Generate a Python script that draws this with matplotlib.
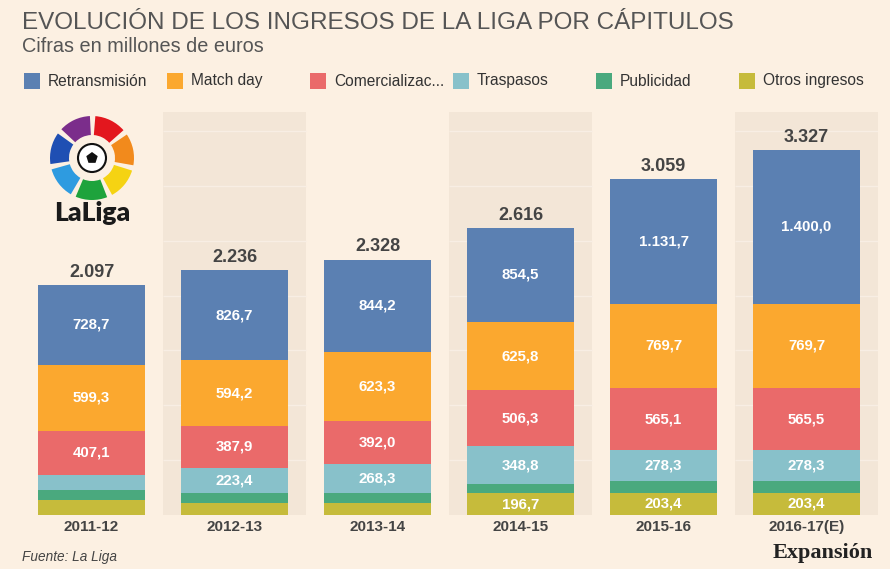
import matplotlib
matplotlib.use("Agg")
import matplotlib.pyplot as plt
from matplotlib.patches import Rectangle, Wedge, Circle, RegularPolygon
import numpy as np

# ---- data ----
categories = ['2011-12', '2012-13', '2013-14', '2014-15', '2015-16', '2016-17(E)']
retransmision = [728.7, 826.7, 844.2, 854.5, 1131.7, 1400.0]
match_day = [599.3, 594.2, 623.3, 625.8, 769.7, 769.7]
comercializacion = [407.1, 387.9, 392.0, 506.3, 565.1, 565.5]
traspasos = [137.0, 223.4, 268.3, 348.8, 278.3, 278.3]
publicidad = [85.0, 92.0, 91.0, 83.9, 110.8, 110.1]
otros = [139.9, 111.8, 109.2, 196.7, 203.4, 203.4]
totals = [2097, 2236, 2328, 2616, 3059, 3327]
legend_names = ['Retransmisión', 'Match day', 'Comercializac...', 'Traspasos', 'Publicidad', 'Otros ingresos']

colors = {
    'Retransmisión': '#5b80b2',
    'Match day': '#fba82f',
    'Comercializac...': '#ea6a6a',
    'Traspasos': '#88c1ca',
    'Publicidad': '#4aa97e',
    'Otros ingresos': '#c6bb3b',
}
BG = '#fcf0e2'
BAND = '#f3e6d7'
TXT = '#444444'

W, H = 890, 569
fig = plt.figure(figsize=(W / 100, H / 100), dpi=100, facecolor=BG)

def px(x, y):
    return x / W, 1 - y / H

# main axes
ax_l, ax_r, ax_t, ax_b = 20, 878, 112, 515
ax = fig.add_axes([ax_l / W, 1 - ax_b / H, (ax_r - ax_l) / W, (ax_b - ax_t) / H])
ax.set_facecolor(BG)
for s in ax.spines.values():
    s.set_visible(False)
n = len(categories)
ax.set_xlim(-0.5, n - 0.5)
ymax = (ax_b - ax_t) / (230 / 2097)
ax.set_ylim(0, ymax)
ax.set_xticks([])
ax.set_yticks([])

# alternating bands with faint gridlines inside
for i in range(n):
    if i % 2 == 1:
        ax.axvspan(i - 0.5, i + 0.5, color=BAND, zorder=0, lw=0)
        for g in np.arange(500, ymax, 500):
            ax.hlines(g, i - 0.5, i + 0.5, color='#f8eee4', lw=1.0, zorder=0.5)

x = np.arange(n)
series = [
    ('Otros ingresos', otros),
    ('Publicidad', publicidad),
    ('Traspasos', traspasos),
    ('Comercializac...', comercializacion),
    ('Match day', match_day),
    ('Retransmisión', retransmision),
]

def fmt_es(v, dec=1):
    s = f"{v:,.{dec}f}"
    return s.replace(',', 'X').replace('.', ',').replace('X', '.')

bottom = np.zeros(n)
for name, vals in series:
    vals = np.array(vals)
    ax.bar(x, vals, bottom=bottom, width=0.75, color=colors[name], lw=0, zorder=2)
    for xi, v, b in zip(x, vals, bottom):
        if v >= 150:
            ax.text(xi, b + v / 2, fmt_es(v, 1), ha='center', va='center',
                    color='white', fontsize=10.8, fontweight='bold',
                    family='Liberation Sans', zorder=3)
    bottom += vals

for xi, t in zip(x, totals):
    ax.annotate(fmt_es(t, 0), (xi, t), xytext=(0, 3), textcoords='offset points',
                ha='center', va='bottom', fontsize=13, fontweight='bold',
                color=TXT, family='Liberation Sans')

# category labels
for xi, c in zip(x, categories):
    fx, fy = px(ax_l + (xi + 0.5) * (ax_r - ax_l) / n, 527)
    fig.text(fx, fy, c, ha='center', va='center', fontsize=11, fontweight='bold',
             color=TXT, family='Liberation Sans')

# title & subtitle
fig.text(*px(22, 23), 'EVOLUCIÓN DE LOS INGRESOS DE LA LIGA POR CÁPITULOS',
         ha='left', va='center', fontsize=17.5, color='#555555',
         family='Liberation Sans')
fig.text(*px(22, 47), 'Cifras en millones de euros', ha='left', va='center',
         fontsize=14.3, color='#555555', family='Liberation Sans')

# legend
for i, name in enumerate(legend_names):
    x0 = 24 + 143 * i
    fx, fy = px(x0, 89)
    fig.patches.append(Rectangle((fx, fy), 16 / W, 16 / H, transform=fig.transFigure,
                                 facecolor=colors[name], lw=0, figure=fig))
    fig.text(*px(x0 + 24, 81), name, ha='left', va='center', fontsize=11.2,
             color='#333333', family='Liberation Sans')

# footer
fig.text(*px(22, 557), 'Fuente: La Liga', ha='left', va='center', fontsize=9.8,
         style='italic', color=TXT, family='Liberation Sans')
fig.text(*px(873, 553), 'Expansión', ha='right', va='center', fontsize=16,
         fontweight='bold', color='#222222', family='Liberation Serif')

# LaLiga logo
cx, cy, sz = 92, 158, 100
lax = fig.add_axes([(cx - sz / 2) / W, 1 - (cy + sz / 2) / H, sz / W, sz / H])
lax.set_xlim(-50, 50)
lax.set_ylim(-50, 50)
lax.set_aspect('equal')
lax.axis('off')
logo_cols = ['#f28a1c', '#e3171e', '#7b2d8b', '#1f4fb3', '#2e9be0', '#1ea33c', '#f5d313']
for k, c in enumerate(logo_cols):
    t1 = -10 + k * (360 / 7)
    lax.add_patch(Wedge((0, 0), 42, t1, t1 + 44, width=19, facecolor=c, lw=0))
lax.add_patch(Circle((0, 0), 14, facecolor='white', edgecolor='#111111', lw=1.5))
lax.add_patch(RegularPolygon((0, 0), 5, radius=6, facecolor='#111111'))
fig.text(*px(92, 213), 'LaLiga', ha='center', va='center', fontsize=19,
         fontweight='heavy', color='#1a1a1a', family='Lato')

fig.savefig('out.png', dpi=100, facecolor=BG)
